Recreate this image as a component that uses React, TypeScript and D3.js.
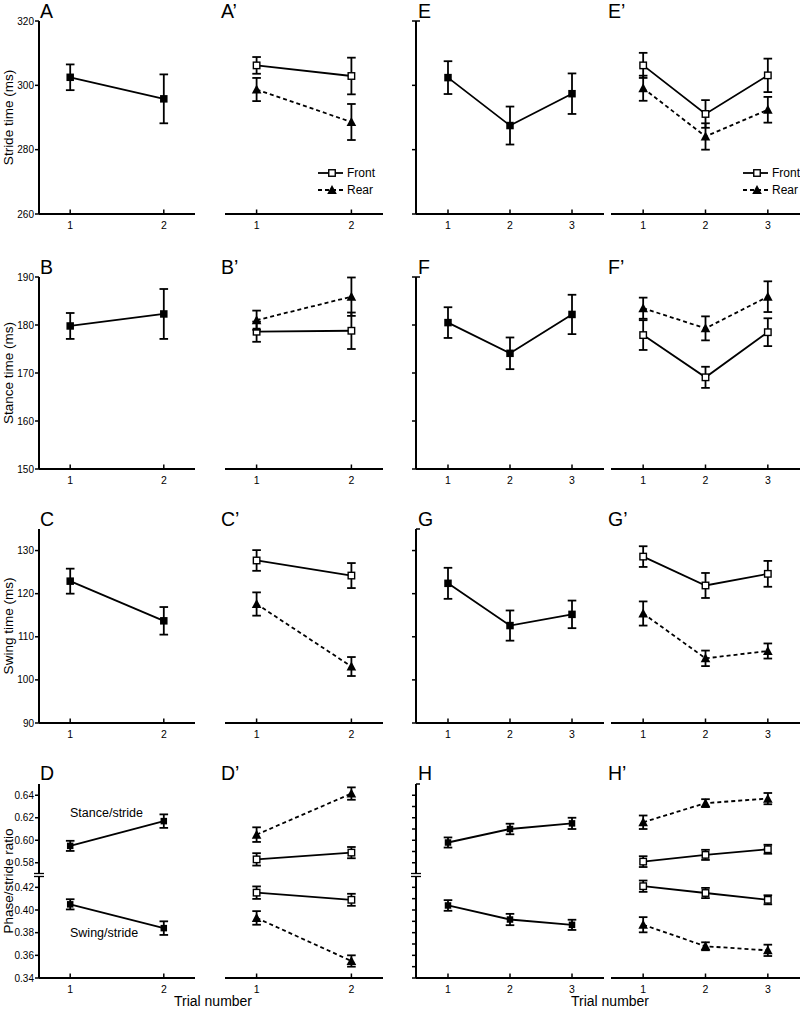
import React from 'react';
import * as d3 from 'd3';

const trials2 = [1, 2];
const trials3 = [1, 2, 3];

// Row 1: stride time (ms)
const strideA = [302.5, 295.8];
const strideASE = [4.0, 7.6];
const strideAFront = [306.2, 302.9];
const strideAFrontSE = [2.6, 5.7];
const strideARear = [298.7, 288.6];
const strideARearSE = [3.6, 5.6];
const strideE = [302.4, 287.5, 297.4];
const strideESE = [5.1, 5.9, 6.3];
const strideEFront = [306.2, 291.1, 303.1];
const strideEFrontSE = [3.9, 4.3, 5.2];
const strideERear = [299.1, 284.1, 292.4];
const strideERearSE = [3.9, 4.1, 4.0];

// Row 2: stance time (ms)
const stanceB = [179.8, 182.3];
const stanceBSE = [2.7, 5.2];
const stanceBFront = [178.6, 178.8];
const stanceBFrontSE = [2.1, 3.8];
const stanceBRear = [181.0, 185.9];
const stanceBRearSE = [2.0, 4.0];
const stanceF = [180.5, 174.1, 182.2];
const stanceFSE = [3.2, 3.3, 4.1];
const stanceFFront = [177.9, 169.1, 178.5];
const stanceFFrontSE = [3.1, 2.2, 2.9];
const stanceFRear = [183.5, 179.3, 185.9];
const stanceFRearSE = [2.2, 2.5, 3.2];

// Row 3: swing time (ms)
const swingC = [122.9, 113.7];
const swingCSE = [2.9, 3.2];
const swingCFront = [127.7, 124.2];
const swingCFrontSE = [2.4, 2.9];
const swingCRear = [117.6, 103.1];
const swingCRearSE = [2.7, 2.2];
const swingG = [122.4, 112.6, 115.2];
const swingGSE = [3.6, 3.5, 3.2];
const swingGFront = [128.6, 121.9, 124.6];
const swingGFrontSE = [2.4, 2.9, 3.0];
const swingGRear = [115.4, 105.0, 106.7];
const swingGRearSE = [2.8, 1.8, 1.75];

// Row 4: phase/stride ratio
const ratioDStance = [0.595, 0.617];
const ratioDStanceSE = [0.0045, 0.006];
const ratioDSwing = [0.405, 0.384];
const ratioDSwingSE = [0.0045, 0.006];
const ratioDFrontStance = [0.583, 0.589];
const ratioDFrontStanceSE = [0.0055, 0.005];
const ratioDRearStance = [0.605, 0.6415];
const ratioDRearStanceSE = [0.0065, 0.0055];
const ratioDFrontSwing = [0.4153, 0.409];
const ratioDFrontSwingSE = [0.0055, 0.0053];
const ratioDRearSwing = [0.393, 0.355];
const ratioDRearSwingSE = [0.006, 0.005];
const ratioHStance = [0.598, 0.61, 0.615];
const ratioHStanceSE = [0.0045, 0.0047, 0.005];
const ratioHSwing = [0.404, 0.3916, 0.3869];
const ratioHSwingSE = [0.0047, 0.005, 0.0045];
const ratioHFrontStance = [0.581, 0.587, 0.592];
const ratioHFrontStanceSE = [0.0048, 0.0045, 0.004];
const ratioHRearStance = [0.616, 0.633, 0.637];
const ratioHRearStanceSE = [0.006, 0.0035, 0.005];
const ratioHFrontSwing = [0.421, 0.415, 0.409];
const ratioHFrontSwingSE = [0.005, 0.0045, 0.004];
const ratioHRearSwing = [0.387, 0.368, 0.3644];
const ratioHRearSwingSE = [0.0067, 0.0035, 0.005];

const strideTicks = [260, 280, 300, 320];
const stanceTicks = [150, 160, 170, 180, 190];
const swingTicks = [90, 100, 110, 120, 130];
const ratioTicks = [0.34, 0.36, 0.38, 0.4, 0.42, 0.58, 0.6, 0.62, 0.64];
const ratioMinorTicks = [0.34, 0.35, 0.36, 0.37, 0.38, 0.39, 0.4, 0.41, 0.42, 0.58, 0.59, 0.6, 0.61, 0.62, 0.63, 0.64];

const FONT = '"Liberation Sans", Arial, Helvetica, sans-serif';
const LW = 1.8;
const AW = 2;

type Kind = 'all' | 'front' | 'rear';
type Series = { v: number[]; se: number[]; kind: Kind; small?: boolean };

const yStride = d3.scaleLinear().domain([260, 320]).range([214, 21]);
const yStance = d3.scaleLinear().domain([150, 190]).range([469, 277]);
const ySwing = d3.scaleLinear().domain([90, 135]).range([723, 529]);
const yRatio = d3.scaleLinear().domain([0.34, 0.43, 0.57, 0.65]).range([978, 876, 874, 784]);

const x2L = d3.scaleLinear().domain([2 / 3, 7 / 3]).range([39, 195]);
const x2R = d3.scaleLinear().domain([2 / 3, 7 / 3]).range([225, 383]);
const x3L = d3.scaleLinear().domain([0.484, 3.516]).range([416, 604]);
const x3R = d3.scaleLinear().domain([0.484, 3.516]).range([611, 800]);

function Marker({ x, y, kind, small }: { x: number; y: number; kind: Kind; small?: boolean }) {
  if (kind === 'all') {
    const s = small ? 6.5 : 7.5;
    return <rect x={x - s / 2} y={y - s / 2} width={s} height={s} fill="#000" />;
  }
  if (kind === 'front') {
    const s = 6.5;
    return <rect x={x - s / 2} y={y - s / 2} width={s} height={s} fill="#fff" stroke="#000" strokeWidth={1.4} />;
  }
  const w = 4.8;
  return <polygon points={`${x},${y - 5} ${x - w},${y + 4} ${x + w},${y + 4}`} fill="#000" />;
}

function SeriesG({ s, xs, ys, trials }: { s: Series; xs: d3.ScaleLinear<number, number>; ys: d3.ScaleLinear<number, number>; trials: number[] }) {
  const line = d3.line<number>().x((_, i) => xs(trials[i])).y((d) => ys(d));
  const cap = 4.3;
  return (
    <g>
      <path d={line(s.v) || ''} fill="none" stroke="#000" strokeWidth={LW} strokeDasharray={s.kind === 'rear' ? '4,3' : undefined} />
      {s.v.map((d, i) => {
        const x = xs(trials[i]);
        const y1 = ys(d + s.se[i]);
        const y0 = ys(d - s.se[i]);
        return (
          <g key={'e' + i} stroke="#000" strokeWidth={LW}>
            <line x1={x} x2={x} y1={y1} y2={y0} />
            <line x1={x - cap} x2={x + cap} y1={y1} y2={y1} />
            <line x1={x - cap} x2={x + cap} y1={y0} y2={y0} />
          </g>
        );
      })}
      {s.v.map((d, i) => (
        <Marker key={'m' + i} x={xs(trials[i])} y={ys(d)} kind={s.kind} small={s.small} />
      ))}
    </g>
  );
}

function XAxis({ xs, y, trials }: { xs: d3.ScaleLinear<number, number>; y: number; trials: number[] }) {
  const [a, b] = xs.range();
  return (
    <g>
      <line x1={a} x2={b} y1={y} y2={y} stroke="#000" strokeWidth={AW} />
      {trials.map((t) => (
        <g key={t}>
          <line x1={xs(t)} x2={xs(t)} y1={y} y2={y - 4.5} stroke="#000" strokeWidth={1.5} />
          <text x={xs(t)} y={y + 15} fontSize={10.5} textAnchor="middle" fontFamily={FONT}>{t}</text>
        </g>
      ))}
    </g>
  );
}

function YAxis({ x, ys, ticks, labels, fmt, brk }: { x: number; ys: d3.ScaleLinear<number, number>; ticks: number[]; labels: boolean; fmt: (d: number) => string; brk?: boolean }) {
  const r = ys.range();
  const top = Math.min(...r);
  const bot = Math.max(...r);
  return (
    <g>
      <line x1={x} x2={x} y1={top} y2={bot} stroke="#000" strokeWidth={AW} />
      {!labels && <line x1={x} x2={x + 4} y1={top} y2={top} stroke="#000" strokeWidth={1.5} />}
      {ticks.map((t) => (
        <g key={t}>
          <line x1={x - 4} x2={x} y1={ys(t)} y2={ys(t)} stroke="#000" strokeWidth={1.5} />
          {labels && (
            <text x={x - 5} y={ys(t) + 3.5} fontSize={10} textAnchor="end" fontFamily={FONT}>{fmt(t)}</text>
          )}
        </g>
      ))}
      {brk && (
        <g>
          <rect x={x - 2} y={ys(0.57) - 0.5} width={4} height={ys(0.43) - ys(0.57) + 1} fill="#fff" />
          <line x1={x - 5} x2={x + 5} y1={ys(0.57) - 0.5} y2={ys(0.57) - 0.5} stroke="#000" strokeWidth={1.3} />
          <line x1={x - 5} x2={x + 5} y1={ys(0.43) + 0.5} y2={ys(0.43) + 0.5} stroke="#000" strokeWidth={1.3} />
        </g>
      )}
    </g>
  );
}

function Legend({ x, y }: { x: number; y: number }) {
  return (
    <g fontFamily={FONT} fontSize={12}>
      <line x1={x} x2={x + 25} y1={y} y2={y} stroke="#000" strokeWidth={LW} />
      <Marker x={x + 14} y={y} kind="front" />
      <text x={x + 29} y={y + 4}>Front</text>
      <line x1={x} x2={x + 25} y1={y + 17} y2={y + 17} stroke="#000" strokeWidth={LW} strokeDasharray="4,3" />
      <Marker x={x + 14} y={y + 17} kind="rear" />
      <text x={x + 29} y={y + 21}>Rear</text>
    </g>
  );
}

export default function App() {
  const rows = [
    {
      ys: yStride, ticks: strideTicks, fmt: (d: number) => String(d), label: 'Stride time (ms)', letters: ['A', 'A\u2019', 'E', 'E\u2019'], ly: 18,
      L: [{ v: strideA, se: strideASE, kind: 'all' }],
      LR: [{ v: strideAFront, se: strideAFrontSE, kind: 'front' }, { v: strideARear, se: strideARearSE, kind: 'rear' }],
      R: [{ v: strideE, se: strideESE, kind: 'all' }],
      RR: [{ v: strideEFront, se: strideEFrontSE, kind: 'front' }, { v: strideERear, se: strideERearSE, kind: 'rear' }],
    },
    {
      ys: yStance, ticks: stanceTicks, fmt: (d: number) => String(d), label: 'Stance time (ms)', letters: ['B', 'B\u2019', 'F', 'F\u2019'], ly: 274,
      L: [{ v: stanceB, se: stanceBSE, kind: 'all' }],
      LR: [{ v: stanceBFront, se: stanceBFrontSE, kind: 'front' }, { v: stanceBRear, se: stanceBRearSE, kind: 'rear' }],
      R: [{ v: stanceF, se: stanceFSE, kind: 'all' }],
      RR: [{ v: stanceFFront, se: stanceFFrontSE, kind: 'front' }, { v: stanceFRear, se: stanceFRearSE, kind: 'rear' }],
    },
    {
      ys: ySwing, ticks: swingTicks, fmt: (d: number) => String(d), label: 'Swing time (ms)', letters: ['C', 'C\u2019', 'G', 'G\u2019'], ly: 526,
      L: [{ v: swingC, se: swingCSE, kind: 'all' }],
      LR: [{ v: swingCFront, se: swingCFrontSE, kind: 'front' }, { v: swingCRear, se: swingCRearSE, kind: 'rear' }],
      R: [{ v: swingG, se: swingGSE, kind: 'all' }],
      RR: [{ v: swingGFront, se: swingGFrontSE, kind: 'front' }, { v: swingGRear, se: swingGRearSE, kind: 'rear' }],
    },
    {
      ys: yRatio, ticks: ratioTicks, fmt: (d: number) => d.toFixed(2), label: 'Phase/stride ratio', letters: ['D', 'D\u2019', 'H', 'H\u2019'], ly: 780,
      L: [{ v: ratioDStance, se: ratioDStanceSE, kind: 'all', small: true }, { v: ratioDSwing, se: ratioDSwingSE, kind: 'all', small: true }],
      LR: [
        { v: ratioDFrontStance, se: ratioDFrontStanceSE, kind: 'front' }, { v: ratioDRearStance, se: ratioDRearStanceSE, kind: 'rear' },
        { v: ratioDFrontSwing, se: ratioDFrontSwingSE, kind: 'front' }, { v: ratioDRearSwing, se: ratioDRearSwingSE, kind: 'rear' },
      ],
      R: [{ v: ratioHStance, se: ratioHStanceSE, kind: 'all', small: true }, { v: ratioHSwing, se: ratioHSwingSE, kind: 'all', small: true }],
      RR: [
        { v: ratioHFrontStance, se: ratioHFrontStanceSE, kind: 'front' }, { v: ratioHRearStance, se: ratioHRearStanceSE, kind: 'rear' },
        { v: ratioHFrontSwing, se: ratioHFrontSwingSE, kind: 'front' }, { v: ratioHRearSwing, se: ratioHRearSwingSE, kind: 'rear' },
      ],
    },
  ];

  return (
    <svg width={800} height={1009} style={{ position: 'absolute', left: 0, top: 0, background: '#fff' }} fontFamily={FONT}>
      <rect x={0} y={0} width={800} height={1009} fill="#fff" />
      {rows.map((row, ri) => {
        const r = row.ys.range();
        const bot = Math.max(...r);
        const top = Math.min(...r);
        const isRatio = ri === 3;
        return (
          <g key={ri}>
            <text transform={`translate(${13},${(top + bot) / 2}) rotate(-90)`} textAnchor="middle" fontSize={13.5}>{row.label}</text>
            <text x={40} y={row.ly} fontSize={19.5}>{row.letters[0]}</text>
            <text x={221} y={row.ly} fontSize={19.5}>{row.letters[1]}</text>
            <text x={418} y={row.ly} fontSize={19.5}>{row.letters[2]}</text>
            <text x={608} y={row.ly} fontSize={19.5}>{row.letters[3]}</text>

            <YAxis x={39} ys={row.ys} ticks={row.ticks} labels={true} fmt={row.fmt} brk={isRatio} />
            <YAxis x={416} ys={row.ys} ticks={isRatio ? ratioMinorTicks : row.ticks} labels={false} fmt={row.fmt} brk={isRatio} />

            <XAxis xs={x2L} y={bot} trials={trials2} />
            <XAxis xs={x2R} y={bot} trials={trials2} />
            <XAxis xs={x3L} y={bot} trials={trials3} />
            <XAxis xs={x3R} y={bot} trials={trials3} />

            {row.L.map((s, i) => <SeriesG key={'L' + i} s={s as Series} xs={x2L} ys={row.ys} trials={trials2} />)}
            {row.LR.map((s, i) => <SeriesG key={'LR' + i} s={s as Series} xs={x2R} ys={row.ys} trials={trials2} />)}
            {row.R.map((s, i) => <SeriesG key={'R' + i} s={s as Series} xs={x3L} ys={row.ys} trials={trials3} />)}
            {row.RR.map((s, i) => <SeriesG key={'RR' + i} s={s as Series} xs={x3R} ys={row.ys} trials={trials3} />)}
          </g>
        );
      })}
      <Legend x={318} y={173} />
      <Legend x={743} y={173} />
      <text x={70} y={817} fontSize={12.5}>Stance/stride</text>
      <text x={70} y={937} fontSize={12.5}>Swing/stride</text>
      <text x={213} y={1006} fontSize={14} textAnchor="middle">Trial number</text>
      <text x={610} y={1006} fontSize={14} textAnchor="middle">Trial number</text>
    </svg>
  );
}
